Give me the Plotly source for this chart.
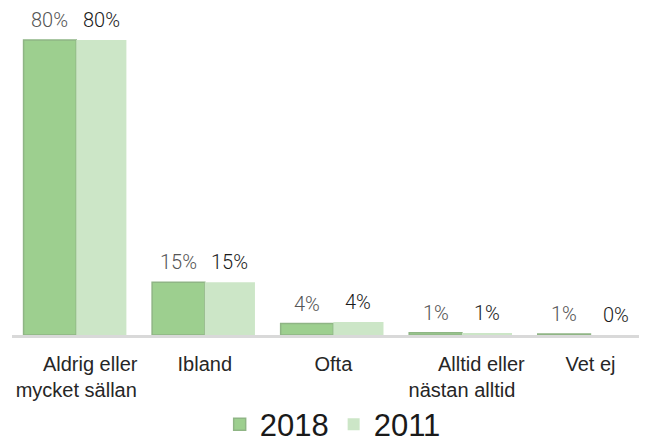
import plotly.graph_objects as go

# Data.
categories = ['Aldrig eller<br>mycket sällan', 'Ibland', 'Ofta',
              'Alltid eller<br>nästan alltid', 'Vet ej']
values_2018 = [80, 14.3, 3.1, 0.6, 0.3]
values_2011 = [80, 14.3, 3.5, 0.5, 0]
labels_2018 = ['80%', '15%', '4%', '1%', '1%']
labels_2011 = ['80%', '15%', '4%', '1%', '0%']

xs = list(range(len(categories)))
# Pad first lines so the two-line labels look right-aligned like the original.
nb = '\u00a0'
ticktext = [nb * 5 + 'Aldrig eller<br>mycket sällan', 'Ibland', 'Ofta',
            nb * 7 + 'Alltid eller<br>nästan alltid', 'Vet ej']

fig = go.Figure()
fig.add_bar(x=xs, y=values_2018, name='2018', offset=-0.41, width=0.41,
            marker=dict(color='#9dcf8f', line=dict(color='#8fb585', width=1.5)))
fig.add_bar(x=xs, y=values_2011, name='2011', offset=0, width=0.39,
            marker=dict(color='#cce6c7', line=dict(width=0)))

# Data labels above the bars.
label_font = 'Roboto, Liberation Sans, sans-serif'
for i in xs:
    fig.add_annotation(x=i - 0.205, y=values_2018[i], text=labels_2018[i],
                       showarrow=False, yanchor='bottom', yshift=6,
                       font=dict(family=label_font, size=20, color='#555555',
                                 weight=300))
    fig.add_annotation(x=i + 0.195, y=values_2011[i], text=labels_2011[i],
                       showarrow=False, yanchor='bottom', yshift=6,
                       font=dict(family=label_font, size=20, color='#1a1a1a',
                                 weight=300))

# The page body adds an 8px margin, so the figure is 8px smaller each way.
fig.update_layout(
    width=639, height=434,
    margin=dict(l=4, r=0, t=2, b=107, autoexpand=False),
    plot_bgcolor='white', paper_bgcolor='white',
    font=dict(family='Liberation Sans, Arial, sans-serif', color='#262626'),
    showlegend=True,
    legend=dict(orientation='h', x=0.505, xanchor='center', y=-0.276,
                yanchor='middle', font=dict(size=31, color='#1a1a1a'),
                itemwidth=30, traceorder='normal'),
)
fig.update_xaxes(range=[-0.5, 4.44], tickmode='array', tickvals=xs,
                 ticktext=ticktext, tickfont=dict(size=20, color='#262626'),
                 ticklabelstandoff=9, automargin=False,
                 showline=True, linecolor='#d9d9d9', linewidth=3,
                 showgrid=False, ticks='', zeroline=False)
fig.update_yaxes(range=[0, 88.1], visible=False, showgrid=False)

fig.write_html('out.html')
